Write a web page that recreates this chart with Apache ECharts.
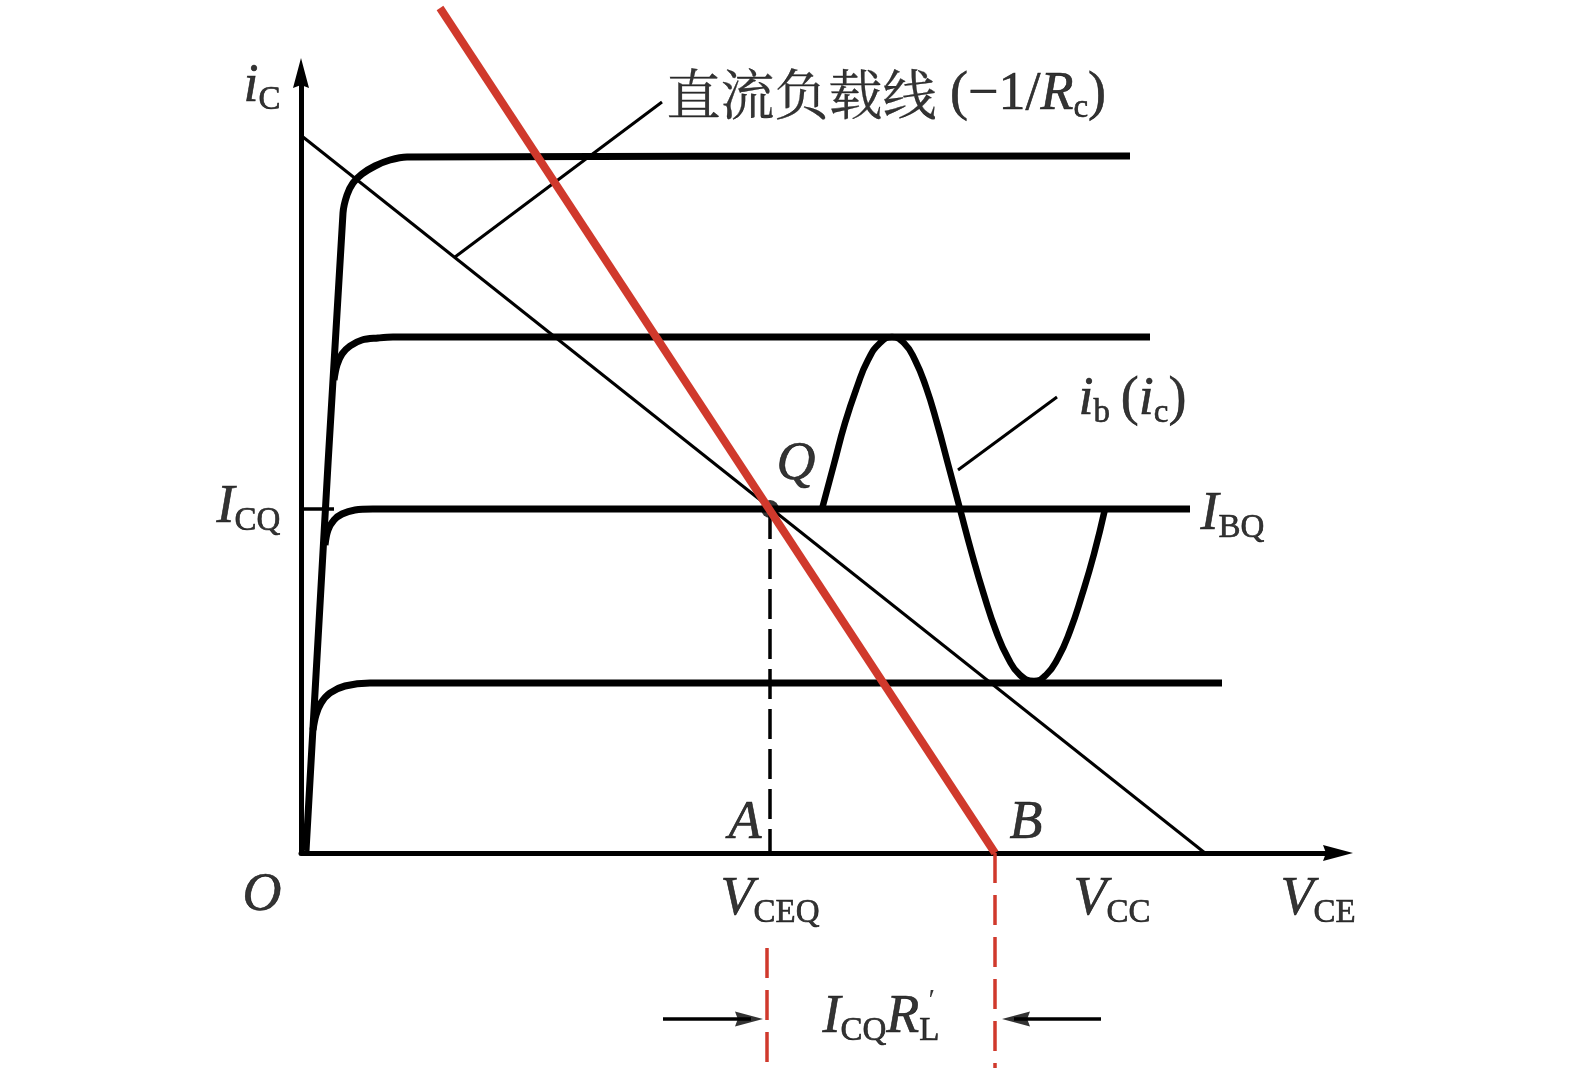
<!DOCTYPE html>
<html>
<head>
<meta charset="utf-8">
<script src="https://cdn.jsdelivr.net/npm/echarts@6/dist/echarts.min.js"></script>
<style>html,body{margin:0;padding:0;background:#fff}#c{width:1575px;height:1075px}</style>
</head>
<body>
<div id="c"></div>
<script>
// ---- data (x: V_CE, y: i_C, arbitrary units) ----
const curveTop = [[0.05,0.02],[0.42,6.40],[0.46,6.58],[0.52,6.70],[0.61,6.79],[0.74,6.87],[0.89,6.93],[1.06,6.96],[8.29,6.97]];
const curve2 = [[0.33,4.73],[0.36,4.88],[0.41,4.99],[0.49,5.07],[0.61,5.13],[0.77,5.15],[0.92,5.16],[8.49,5.16]];
const curveIBQ = [[0.24,3.08],[0.27,3.23],[0.33,3.33],[0.41,3.39],[0.54,3.43],[0.72,3.44],[8.89,3.44]];
const curve4 = [[0.12,1.23],[0.15,1.38],[0.20,1.50],[0.29,1.60],[0.44,1.67],[0.69,1.70],[9.21,1.70]];
const dcLoadLine = [[0.02,7.16],[9.04,0]];
const acLoadLine = [[1.39,8.45],[6.94,0]];
const qPoint = [[4.69,3.44]];
const vceqDash = [[4.69,3.44],[4.69,0]];
const icqTick = [[0,3.44],[0.33,3.44]];
const redDashA = [[4.66,-0.95],[4.66,-2.10]];
const redDashB = [[6.94,0],[6.94,-2.15]];
const leaderDC = [[1.54,5.96],[3.61,7.51]];
const leaderIb = [[6.57,3.83],[7.56,4.56]];
const sineWave = [
  [5.21,3.44],[5.33,3.89],[5.44,4.30],[5.56,4.66],[5.67,4.93],[5.79,5.10],[5.91,5.16],[6.03,5.10],[6.14,4.93],[6.25,4.66],[6.36,4.30],[6.47,3.89],[6.59,3.44],
  [6.71,2.99],[6.83,2.58],[6.95,2.22],[7.07,1.95],[7.19,1.78],[7.33,1.72],[7.45,1.78],[7.57,1.95],[7.69,2.22],[7.81,2.58],[7.93,2.99],[8.04,3.44]
];
const arrowLeftShaft = [[3.62,-1.66],[4.50,-1.66]];
const arrowRightShaft = [[7.13,-1.66],[8.00,-1.66]];
const arrowHeads = [[4.48,-1.66,-90],[7.15,-1.66,90]];
const labels = [
  [-0.57, 7.66, '{it|i}{sub|C}'],
  [3.66, 7.58, '{zh|直流负载线}{rm| (−1/}{it|R}{sub|c}{rm|)}'],
  [-0.84, 3.45, '{it|I}{sub|CQ}'],
  [4.76, 3.88, '{it|Q}'],
  [9.00, 3.38, '{it|I}{sub|BQ}'],
  [7.78, 4.53, '{it|i}{sub|b}{rm|\u2009(}{it|i}{sub|c}{rm|)}'],
  [4.28, 0.29, '{it|A}'],
  [7.09, 0.29, '{it|B}'],
  [-0.58, -0.43, '{it|O}'],
  [4.20, -0.47, '{it|V}{sub|CEQ}'],
  [7.73, -0.47, '{it|V}{sub|CC}'],
  [9.80, -0.47, '{it|V}{sub|CE}'],
  [5.22, -1.65, '{it|I}{sub|CQ}{it|R}{sub|L}'],
  [6.28, -1.49, '{pr|′}']
];

const BLACK = '#000000';
const RED = '#d0392c';
const ARROW_PATH = 'path://M8,0 L16,30 L8,27 L0,30 Z';

function line(data, color, width, extra) {
  return Object.assign({
    type: 'line', data: data, symbol: 'none', clip: false, silent: true,
    lineStyle: { color: color, width: width, cap: 'butt' }, animation: false
  }, extra || {});
}

const chart = echarts.init(document.getElementById('c'), null, { renderer: 'canvas' });
const tb = { textBorderColor: '#000', textBorderWidth: 0.6 };
const rich = {
  it: Object.assign({ fontFamily: 'Liberation Serif', fontStyle: 'italic', fontSize: 54, lineHeight: 60, color: BLACK }, tb),
  rm: Object.assign({ fontFamily: 'Liberation Serif', fontSize: 54, lineHeight: 60, color: BLACK }, tb),
  sub: Object.assign({ fontFamily: 'Liberation Serif', fontSize: 33, lineHeight: 21, verticalAlign: 'bottom', color: BLACK }, tb),
  zh: Object.assign({ fontFamily: 'Noto Serif CJK SC, Noto Sans CJK SC', fontSize: 54, lineHeight: 60, color: BLACK }, { textBorderColor: '#000', textBorderWidth: 0.3 }),
  pr: { fontFamily: 'Liberation Serif', fontSize: 30, lineHeight: 30, color: BLACK }
};

chart.setOption({
  animation: false,
  backgroundColor: '#ffffff',
  grid: { left: 301, top: 73, width: 1037, height: 780 },
  xAxis: {
    type: 'value', min: 0, max: 10.37,
    axisLine: { show: true, lineStyle: { color: BLACK, width: 5 }, symbol: ['none', ARROW_PATH], symbolSize: [16, 30] },
    axisTick: { show: false }, axisLabel: { show: false }, splitLine: { show: false }
  },
  yAxis: {
    type: 'value', min: 0, max: 7.80,
    axisLine: { show: true, lineStyle: { color: BLACK, width: 5 }, symbol: ['none', ARROW_PATH], symbolSize: [16, 30] },
    axisTick: { show: false }, axisLabel: { show: false }, splitLine: { show: false }
  },
  series: [
    line(curveTop, BLACK, 7, { smooth: 0.35 }),
    line(curve2, BLACK, 7, { smooth: 0.35 }),
    line(curveIBQ, BLACK, 7, { smooth: 0.35 }),
    line(curve4, BLACK, 7, { smooth: 0.35 }),
    line(icqTick, BLACK, 3.5),
    line(dcLoadLine, BLACK, 3),
    line(leaderDC, BLACK, 3),
    line(leaderIb, BLACK, 3),
    line(sineWave, BLACK, 6.5, { smooth: 0.5 }),
    line(vceqDash, BLACK, 3.5, { lineStyle: { color: BLACK, width: 3.5, type: [30, 10] } }),
    line(redDashA, RED, 3.5, { lineStyle: { color: RED, width: 3.5, type: [30, 12] } }),
    line(redDashB, RED, 3.5, { lineStyle: { color: RED, width: 3.5, type: [30, 12] } }),
    line(arrowLeftShaft, BLACK, 3.5),
    line(arrowRightShaft, BLACK, 3.5),
    {
      type: 'scatter', data: arrowHeads.map(a => ({ value: [a[0], a[1]], symbolRotate: a[2] })),
      symbol: ARROW_PATH, symbolSize: [15, 28], clip: false, silent: true,
      itemStyle: { color: BLACK }
    },
    {
      type: 'scatter', data: qPoint, symbol: 'circle', symbolSize: 18, clip: false, silent: true,
      itemStyle: { color: BLACK }, z: 3
    },
    line(acLoadLine, RED, 8, { z: 4 }),
    {
      type: 'scatter', clip: false, silent: true, symbolSize: 1, z: 5,
      itemStyle: { color: 'rgba(0,0,0,0)' },
      data: labels.map(l => ({
        value: [l[0], l[1]],
        label: { show: true, formatter: l[2], position: [0, 0], align: 'left', verticalAlign: 'middle', rich: rich }
      }))
    }
  ]
});
</script>
</body>
</html>
